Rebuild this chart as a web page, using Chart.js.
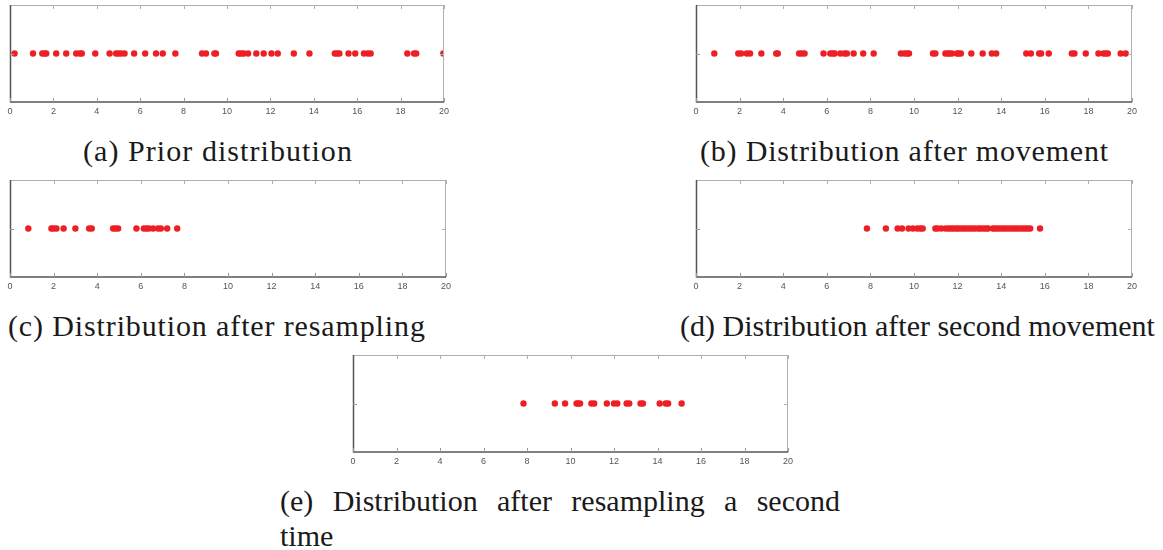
<!DOCTYPE html>
<html>
<head>
<meta charset="utf-8">
<script src="https://cdn.jsdelivr.net/npm/chart.js@4.4.1/dist/chart.umd.min.js"></script>
<style>
  body { margin: 0; background: #fff; width: 1163px; height: 550px; position: relative; overflow: hidden; }
  .panel { position: absolute; }
  .cap { position: absolute; font-family: "Liberation Serif", "DejaVu Serif", serif; font-size: 30px; color: #1a1a1a; white-space: nowrap; line-height: 35px; }
</style>
</head>
<body>
<div class="panel" style="left:0px;top:0px;width:460px;height:122px"><canvas id="chartA"></canvas></div>
<div class="panel" style="left:680px;top:0px;width:470px;height:122px"><canvas id="chartB"></canvas></div>
<div class="panel" style="left:0px;top:175px;width:460px;height:122px"><canvas id="chartC"></canvas></div>
<div class="panel" style="left:680px;top:175px;width:470px;height:122px"><canvas id="chartD"></canvas></div>
<div class="panel" style="left:340px;top:350px;width:470px;height:122px"><canvas id="chartE"></canvas></div>

<div class="cap fit" data-w="269" style="left:83px;top:133px">(a) Prior distribution</div>
<div class="cap fit" data-w="408" style="left:700px;top:133px">(b) Distribution after movement</div>
<div class="cap fit" data-w="417" style="left:8px;top:308px">(c) Distribution after resampling</div>
<div class="cap fit" data-w="475" style="left:680px;top:308px">(d) Distribution after second movement</div>
<div class="cap" style="left:280px;top:483px;width:560px;text-align:justify;text-align-last:justify;white-space:normal">(e) Distribution after resampling a second</div>
<div class="cap" style="left:280px;top:518px">time</div>

<script>
// particle positions
const priorParticles = [0.21, 1.06, 1.49, 1.60, 1.67, 2.13, 2.59, 3.05, 3.21, 3.31, 3.93, 4.59, 4.89, 5.00, 5.12, 5.28, 5.72, 6.23, 6.73, 7.04, 7.62, 8.85, 9.03, 9.42, 9.49,
    10.54, 10.65, 10.77, 10.97, 11.35, 11.69, 12.05, 12.34, 13.08, 13.80, 14.97, 15.08, 15.18, 15.60, 15.91, 16.31, 16.49, 16.62, 18.31, 18.62, 18.72, 19.97];
const movedParticles = [0.84, 1.94, 2.07, 2.33, 2.48, 3.00, 3.68, 3.75, 4.73, 4.85, 4.98, 5.85, 6.16, 6.28, 6.36, 6.62, 6.81, 6.92, 7.23, 7.67, 8.15, 9.40, 9.56, 9.68, 9.77,
    10.87, 10.98, 11.44, 11.54, 11.63, 11.74, 11.97, 12.05, 12.15, 12.63, 13.15, 13.57, 13.77, 15.15, 15.36, 15.74, 15.83, 16.18, 17.24, 17.36, 17.88, 18.46, 18.69, 18.79, 18.89, 19.48, 19.71];
const resampledParticles = [0.84, 1.90, 2.00, 2.13, 2.46, 3.00, 3.63, 3.75, 4.73, 4.84, 4.96, 5.80, 6.14, 6.26, 6.37, 6.56, 6.79, 6.92, 7.21, 7.67];
const moved2Particles = [7.84, 8.71, 9.25, 9.45, 9.75, 9.95, 10.15, 10.29, 10.40, 10.98, 11.08, 11.25, 11.45, 11.58, 11.70, 11.82, 11.95, 12.05, 12.18, 12.30, 12.42, 12.55,
    12.68, 12.80, 12.95, 13.05, 13.18, 13.30, 13.40, 13.62, 13.72, 13.85, 13.98, 14.10, 14.22, 14.35, 14.48, 14.60, 14.72, 14.85, 14.98, 15.10, 15.22, 15.33, 15.78];
const resampled2Particles = [7.84, 9.28, 9.75, 10.28, 10.35, 10.44, 10.96, 11.09, 11.67, 12.00, 12.15, 12.58, 12.70, 13.22, 13.33, 14.10, 14.38, 14.49, 15.11];
const xTicks = [0, 2, 4, 6, 8, 10, 12, 14, 16, 18, 20];

// box frame with inward ticks, like the matlab plots
const framePlugin = {
    id: 'frame',
    afterDraw(chart) {
        const ctx = chart.ctx, a = chart.chartArea;
        const xs = chart.scales.x, ys = chart.scales.y;
        ctx.save();
        ctx.lineWidth = 1;
        ctx.strokeStyle = '#b0b0b0';
        ctx.beginPath();
        ctx.moveTo(a.left, a.top + 0.5); ctx.lineTo(a.right, a.top + 0.5);
        ctx.moveTo(a.right - 0.5, a.top); ctx.lineTo(a.right - 0.5, a.bottom);
        xTicks.forEach(v => {
            const px = Math.round(xs.getPixelForValue(v)) + 0.5;
            ctx.moveTo(px, a.top); ctx.lineTo(px, a.top + 4);
        });
        const py = Math.round(ys.getPixelForValue(0)) + 0.5;
        ctx.moveTo(a.right, py); ctx.lineTo(a.right - 4, py);
        ctx.stroke();
        ctx.strokeStyle = '#555';
        ctx.lineWidth = 1.5;
        ctx.beginPath();
        ctx.moveTo(a.left + 0.5, a.top); ctx.lineTo(a.left + 0.5, a.bottom);
        ctx.lineTo(a.right, a.bottom);
        ctx.stroke();
        ctx.lineWidth = 1;
        ctx.strokeStyle = '#999';
        ctx.beginPath();
        xTicks.forEach(v => {
            const px = Math.round(xs.getPixelForValue(v)) + 0.5;
            ctx.moveTo(px, a.bottom); ctx.lineTo(px, a.bottom - 4);
        });
        ctx.moveTo(a.left, py); ctx.lineTo(a.left + 4, py);
        ctx.stroke();
        ctx.restore();
    }
};

function makeStrip(id, values, padLeft, padRight) {
    new Chart(document.getElementById(id), {
        type: 'scatter',
        data: {
            datasets: [{
                data: values.map(v => ({ x: v, y: 0 })),
                backgroundColor: '#ee1f24',
                borderWidth: 0,
                pointRadius: 3.2,
                pointHoverRadius: 3.2
            }]
        },
        options: {
            responsive: false,
            animation: false,
            events: [],
            layout: { padding: { left: padLeft, right: padRight, top: 5, bottom: 0 } },
            plugins: { legend: { display: false }, tooltip: { enabled: false } },
            scales: {
                x: {
                    type: 'linear', min: 0, max: 20,
                    afterBuildTicks: s => { s.ticks = xTicks.map(v => ({ value: v })); },
                    afterFit: s => { s.height = 20; },
                    grid: { display: false, drawTicks: false },
                    border: { display: false },
                    ticks: { padding: 4, color: '#555', font: { family: 'Liberation Sans, Arial, sans-serif', size: 9 } }
                },
                y: { display: false, min: -1, max: 1 }
            }
        },
        plugins: [framePlugin]
    });
}

function sizeCanvas(id, w, h) {
    const c = document.getElementById(id);
    c.width = w; c.height = h;
    c.style.width = w + 'px'; c.style.height = h + 'px';
}

sizeCanvas('chartA', 460, 122);
sizeCanvas('chartB', 470, 122);
sizeCanvas('chartC', 460, 122);
sizeCanvas('chartD', 470, 122);
sizeCanvas('chartE', 470, 122);

makeStrip('chartA', priorParticles, 10, 16);
makeStrip('chartB', movedParticles, 16, 18);
makeStrip('chartC', resampledParticles, 10, 14);
makeStrip('chartD', moved2Particles, 16, 18);
makeStrip('chartE', resampled2Particles, 13, 22);

// stretch each caption to the width it has in the paper
document.querySelectorAll('.cap.fit').forEach(el => {
    const target = +el.dataset.w;
    const natural = el.getBoundingClientRect().width;
    const n = el.textContent.length - 1;
    el.style.letterSpacing = ((target - natural) / n).toFixed(2) + 'px';
});
</script>
</body>
</html>
